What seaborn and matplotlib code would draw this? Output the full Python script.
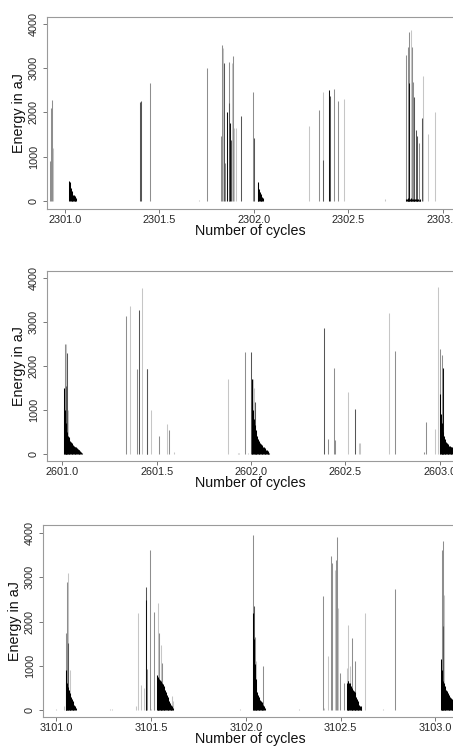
import numpy as np
import pandas as pd
import matplotlib
matplotlib.use("Agg")
import matplotlib.pyplot as plt
import seaborn as sns

# ---- data: single energy spikes (cycle position, energy in aJ, grey tone 0=light .. 3=black)
p1_pos = [2300.919, 2300.924, 2300.931, 2300.938, 2301.399, 2301.402, 2301.451, 2301.707,
          2301.753, 2301.825, 2301.832, 2301.838, 2301.843, 2301.848, 2301.859, 2301.866,
          2301.869, 2301.875, 2301.878, 2301.884, 2301.889, 2301.894, 2301.903, 2301.931,
          2301.995, 2301.998, 2302.289, 2302.344, 2302.363, 2302.365, 2302.397, 2302.400,
          2302.423, 2302.444, 2302.474, 2302.691, 2302.804, 2302.813, 2302.820, 2302.822,
          2302.829, 2302.834, 2302.841, 2302.847, 2302.857, 2302.862, 2302.873, 2302.891,
          2302.896, 2302.922, 2302.959]
p1_energy = [900, 2100, 2290, 1200, 2230, 2250, 2670, 30,
             3000, 1460, 3520, 3460, 3120, 860, 2000, 3150,
             2220, 1760, 1380, 3120, 3270, 1640, 1640, 1920,
             2460, 1420, 1690, 2060, 930, 2460, 2510, 2370,
             2540, 2250, 2300, 40, 3290, 3490, 3830, 2670,
             3870, 3480, 2700, 2360, 1600, 1460, 1300, 1870,
             2830, 1520, 2010]
p1_tone = [1, 1, 1, 0, 2, 2, 1, 0,
           1, 1, 1, 0, 2, 1, 3, 1,
           2, 3, 2, 0, 1, 0, 0, 2,
           1, 2, 0, 1, 2, 0, 3, 2,
           1, 1, 0, 0, 1, 1, 1, 3,
           0, 1, 1, 2, 2, 2, 1, 2,
           0, 0, 0]

p2_pos = [2600.933, 2601.007, 2601.012, 2601.018, 2601.021, 2601.025, 2601.032,
          2601.337, 2601.359, 2601.398, 2601.408, 2601.424, 2601.447, 2601.451, 2601.470,
          2601.511, 2601.553, 2601.564, 2601.590, 2601.878, 2601.931, 2601.938,
          2601.966, 2601.984, 2602.002, 2602.009, 2602.018, 2602.023,
          2602.385, 2602.406, 2602.438, 2602.443, 2602.514, 2602.553, 2602.571, 2602.580,
          2602.731, 2602.761, 2602.915, 2602.926, 2602.977, 2602.991,
          2603.004, 2603.014, 2603.018]
p2_energy = [10, 1040, 2490, 1550, 2490, 2300, 1000,
             3140, 3360, 1930, 3280, 3770, 1930, 1930, 1000,
             420, 690, 550, 50, 1710, 20, 20,
             2320, 20, 2320, 1710, 1490, 1190,
             2870, 340, 1960, 310, 1420, 1030, 260, 250,
             3210, 2350, 40, 720, 570, 3800,
             2380, 2250, 1950]
p2_tone = [0, 1, 1, 2, 0, 2, 0,
           1, 0, 1, 2, 0, 2, 2, 0,
           1, 0, 1, 0, 0, 0, 0,
           1, 0, 2, 0, 0, 2,
           2, 1, 1, 1, 0, 2, 0, 0,
           0, 1, 1, 1, 0, 0,
           1, 1, 3]

p3_pos = [3100.998, 3101.042, 3101.049, 3101.055, 3101.060, 3101.063, 3101.072,
          3101.281, 3101.292,
          3101.422, 3101.433, 3101.445, 3101.461, 3101.471, 3101.473, 3101.477, 3101.493,
          3101.500, 3101.514, 3101.517, 3101.535, 3101.538, 3101.544, 3101.551, 3101.556,
          3101.609, 3101.617, 3101.971,
          3102.038, 3102.045, 3102.048, 3102.055, 3102.089, 3102.282,
          3102.407, 3102.411, 3102.434, 3102.448, 3102.453, 3102.469, 3102.474, 3102.479,
          3102.485, 3102.495, 3102.516, 3102.534, 3102.539, 3102.551, 3102.560, 3102.574,
          3102.631, 3102.724, 3102.789,
          3103.035, 3103.039, 3103.040, 3103.044]
p3_energy = [30, 80, 1740, 2890, 3100, 1510, 910,
             20, 20,
             80, 2190, 570, 500, 2490, 2770, 930, 3620,
             20, 570, 2210, 2420, 910, 1740, 1480, 1060,
             320, 200, 20,
             3960, 2340, 1660, 1100, 1000, 20,
             2570, 50, 1210, 3490, 3320, 3170, 3400, 3920,
             2300, 840, 610, 950, 1930, 990, 1630, 1100,
             2190, 20, 2740,
             3620, 1890, 3810, 2600]
p3_tone = [0, 0, 1, 1, 0, 2, 0,
           0, 0,
           0, 0, 0, 0, 3, 2, 1, 1,
           0, 0, 1, 0, 0, 1, 0, 1,
           0, 0, 0,
           1, 2, 1, 0, 1, 0,
           1, 0, 0, 1, 1, 0, 1, 1,
           0, 1, 1, 0, 0, 0, 1, 1,
           0, 0, 1,
           1, 2, 1, 0]

# ---- data: dense decay bursts (black), sampled every SAMPLE_STEP cycles from a start cycle
SAMPLE_STEP = 0.004
p1_burst_start = [2301.023, 2302.019, 2302.805]
p1_burst_energy = [
    [450, 420, 300, 220, 170, 140, 130, 110, 90, 60],
    [420, 380, 280, 200, 160, 120, 90, 60],
    [50, 40, 60, 40, 50, 40, 60, 30, 40, 50, 40, 30, 40, 50, 40, 30, 40, 30, 40, 30],
]
p2_burst_start = [2601.010, 2602.004, 2603.002]
p2_burst_energy = [
    [1500, 1000, 700, 650, 500, 420, 380, 330, 300, 270, 250, 230,
     200, 190, 170, 160, 150, 130, 110, 100, 80, 60, 50, 30],
    [1700, 1200, 1000, 800, 650, 550, 450, 400, 350, 300, 270, 250,
     230, 210, 190, 170, 150, 130, 120, 100, 80, 60, 40, 30],
    [1370, 900, 700, 600, 500, 400, 350, 300, 280, 250, 220, 200,
     190, 180, 170, 160, 150, 150, 140],
]
p3_burst_start = [3101.050, 3101.531, 3102.040, 3102.534, 3103.030]
p3_burst_energy = [
    [900, 640, 600, 520, 450, 380, 350, 300, 250, 200, 180, 120, 80, 40],
    [780, 750, 720, 700, 680, 650, 620, 600, 580, 550, 500, 450,
     400, 350, 300, 250, 200, 150, 120, 100, 80, 50],
    [2200, 1600, 1050, 700, 500, 400, 350, 300, 250, 220, 200, 180, 150, 120, 80, 50],
    [600, 650, 650, 620, 600, 550, 500, 480, 450, 420, 400, 350,
     300, 250, 200, 150, 120, 100, 80, 50],
    [1150, 900, 800, 650, 600, 550, 500, 450, 420, 380, 350, 320, 300, 280, 250, 230, 200],
]

x_ticks = [[2301.0, 2301.5, 2302.0, 2302.5, 2303.0],
           [2601.0, 2601.5, 2602.0, 2602.5, 2603.0],
           [3101.0, 3101.5, 3102.0, 3102.5, 3103.0]]
y_ticks = [0, 1000, 2000, 3000, 4000]

tone_colors = ["#c6c6c6", "#8e8e8e", "#565656", "#111111"]

sns.set_theme(style="white")
plt.rcParams["font.family"] = ["Liberation Sans", "DejaVu Sans"]

fig = plt.figure(figsize=(4.53, 7.46), dpi=100)
W, H = 453.0, 746.0

# (left px, top px, bottom px, x min, px per cycle, y min, y max)
layout = [
    (47, 17, 209, 2300.905, 189.0, -181, 4158),
    (47, 271, 461, 2600.919, 188.7, -159, 4159),
    (43, 525, 717, 3100.930, 189.5, -158, 4181),
]
panels = [
    (p1_pos, p1_energy, p1_tone, p1_burst_start, p1_burst_energy),
    (p2_pos, p2_energy, p2_tone, p2_burst_start, p2_burst_energy),
    (p3_pos, p3_energy, p3_tone, p3_burst_start, p3_burst_energy),
]

for i, (pos, energy, tone, b_start, b_energy) in enumerate(panels):
    left, top, bottom, xmin, ppc, ymin, ymax = layout[i]
    span = 2.25
    ax = fig.add_axes([left / W, (H - bottom) / H, span * ppc / W, (bottom - top) / H])

    df = pd.DataFrame({"cycle": pos, "energy": energy, "tone": tone}).sort_values("tone")
    for t, grp in df.groupby("tone"):
        ax.vlines(grp["cycle"], 0, grp["energy"], colors=tone_colors[t], linewidth=0.75)

    for start, heights in zip(b_start, b_energy):
        xs = start + SAMPLE_STEP * np.arange(len(heights))
        ax.vlines(xs, 0, heights, colors="#000000", linewidth=0.75)

    ax.set_xlim(xmin, xmin + span)
    ax.set_ylim(ymin, ymax)
    ax.set_xticks(x_ticks[i])
    ax.set_xticklabels([f"{v:.1f}" for v in x_ticks[i]])
    ax.set_yticks(y_ticks)
    ax.set_yticklabels([str(v) for v in y_ticks], rotation=90, va="center")

    for s in ax.spines.values():
        s.set_color("#9a9a9a")
        s.set_linewidth(0.8)
    ax.tick_params(axis="both", direction="out", length=3, width=0.7, color="#777777",
                   labelsize=7.8, labelcolor="#262626")
    ax.tick_params(axis="x", pad=1)
    ax.tick_params(axis="y", pad=3)
    ax.tick_params(bottom=True, left=True)

    ax.set_xlabel("Number of cycles", fontsize=10.3, color="#111111")
    ax.set_ylabel("Energy in aJ", fontsize=10.3, color="#111111")
    ax.xaxis.set_label_coords((250 - left) / (span * ppc), -15 / (bottom - top))
    ax.yaxis.set_label_coords(-21 / (span * ppc), 0.5)

fig.savefig("out.png", dpi=100)
